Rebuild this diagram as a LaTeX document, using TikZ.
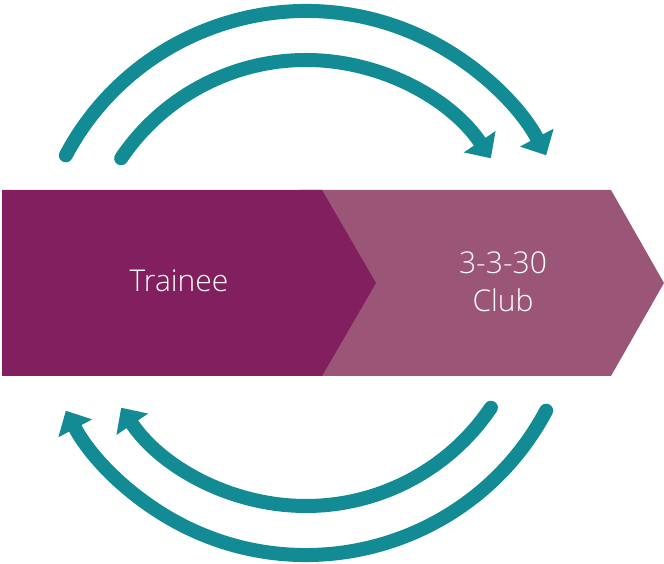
\documentclass[tikz,border=0pt]{standalone}
\usepackage{fontspec}
\setmainfont{Open Sans}[UprightFont = * Light]
\usetikzlibrary{arrows.meta}
\definecolor{plum}{HTML}{821F5E}
\definecolor{mauve}{HTML}{9A5577}
\definecolor{teal}{HTML}{138B94}
\begin{document}
\begin{tikzpicture}[
                x = 1pt, y = 1pt,
                band/.style = {draw = none},
                txt/.style = {text = white, font = \fontsize{30}{38}\selectfont, inner sep = 0mm, align = center},
                loop/.style = {draw = teal, line width = 14pt, line cap = round, -{Triangle[length = 20pt, width = 37pt]}},
            ]
            \useasboundingbox (0, 0) rectangle (664, 564);

            \coordinate (C) at (306, 281);

            \path[band, fill = mauve] (300, 374) -- (611, 374) -- (664, 281) -- (611, 188) -- (300, 188) -- cycle;
            \path[band, fill = plum] (2, 374) -- (322, 374) -- (376, 281) -- (322, 188) -- (2, 188) -- cycle;

            \node (trainee) at (179, 272) [txt, anchor = base] {Trainee};
            \node (club) at (503, 282) [txt] {3-3-30\\Club};

            \path[loop] (C) ++(152:272) arc[start angle = 152, end angle = 28, radius = 272];
            \path[loop] (C) ++(146:223) arc[start angle = 146, end angle = 34, radius = 223];
            \path[loop] (C) ++(-28:272) arc[start angle = -28, end angle = -152, radius = 272];
            \path[loop] (C) ++(-34:223) arc[start angle = -34, end angle = -146, radius = 223];
        \end{tikzpicture}
\end{document}
